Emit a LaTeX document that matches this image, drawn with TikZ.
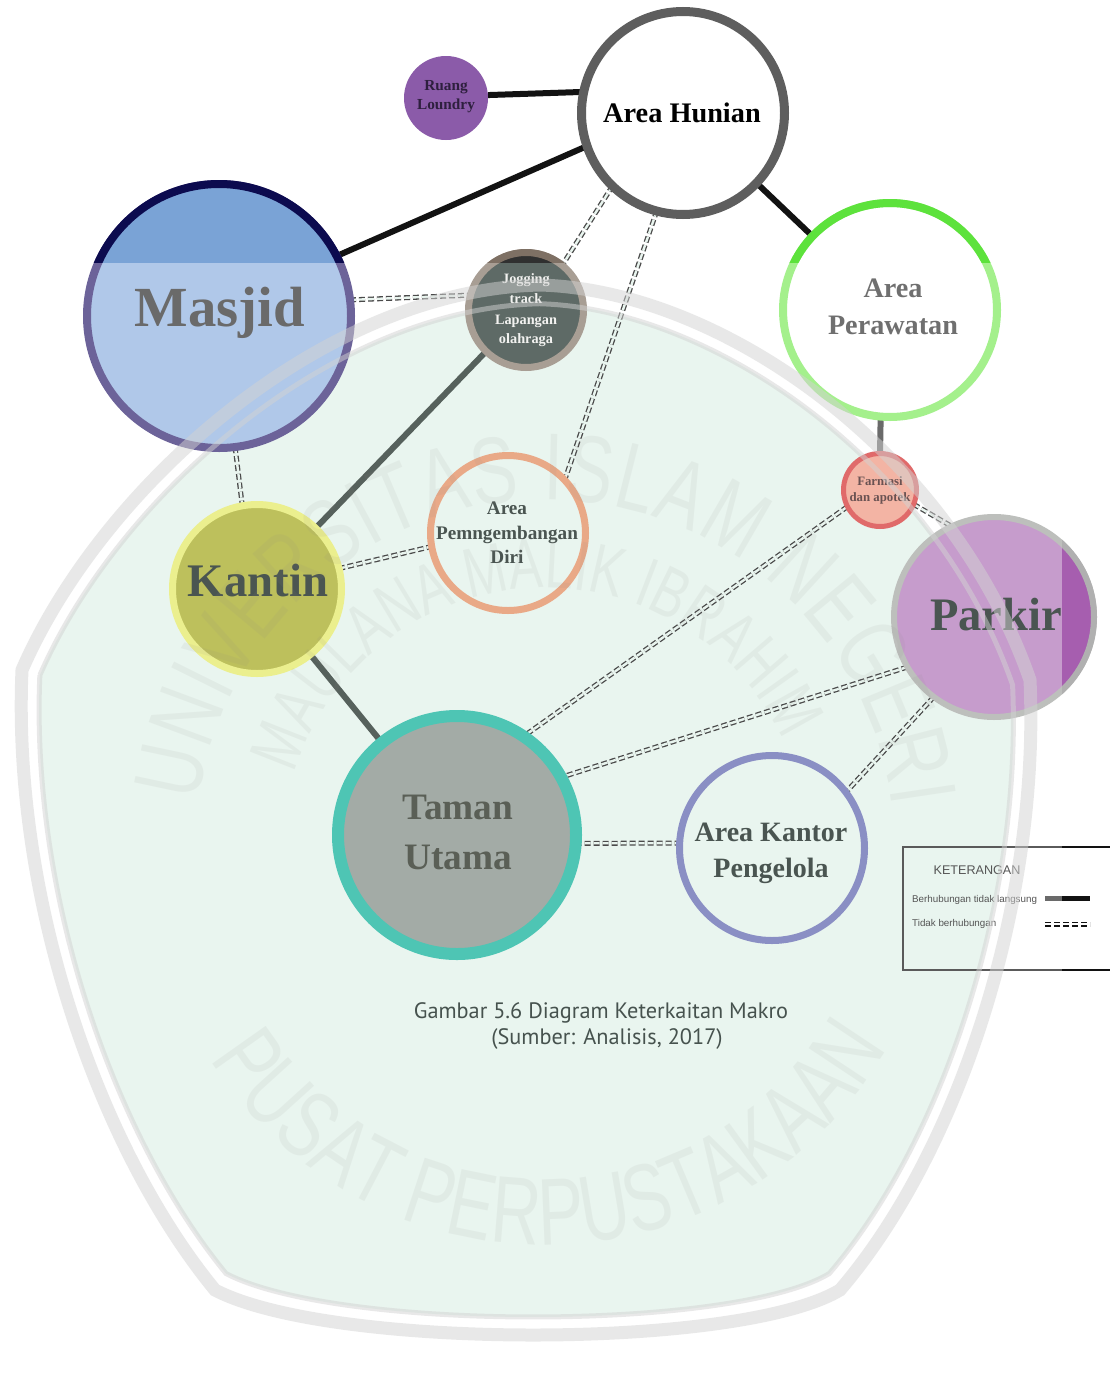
\documentclass[tikz,border=0pt]{standalone}
\usepackage{fontspec}
\setmainfont{Liberation Serif}
\newfontfamily\legendfont{Liberation Sans}
\newfontfamily\capfont{PT Sans}
\newfontfamily\crestfont[FakeStretch=0.72]{Liberation Sans}
\usetikzlibrary{decorations.text}
\pgfdeclarelayer{back}
\pgfdeclarelayer{links}
\pgfdeclarelayer{front}
\pgfsetlayers{back,links,main,front}

\newcommand{\setfs}[1]{\fontsize{#1pt}{#1pt}\selectfont}

% bubble colours
\definecolor{hunianring}{HTML}{5E5E5E}
\definecolor{loundryfill}{HTML}{8B5BA9}
\definecolor{loundrytext}{HTML}{2E1F3E}
\definecolor{masjidfill}{HTML}{B0C8E9}
\definecolor{masjidfilltop}{HTML}{7AA3D6}
\definecolor{masjidring}{HTML}{6C6399}
\definecolor{masjidringtop}{HTML}{0C0B4F}
\definecolor{masjidtext}{HTML}{6A6A6A}
\definecolor{jogfill}{HTML}{5E6A66}
\definecolor{jogfilltop}{HTML}{303030}
\definecolor{jogring}{HTML}{A89E94}
\definecolor{jogringtop}{HTML}{7E7064}
\definecolor{jogtext}{HTML}{F2F2F0}
\definecolor{rawatring}{HTML}{A4F08C}
\definecolor{rawatringtop}{HTML}{5DE23C}
\definecolor{rawattext}{HTML}{6F6F6F}
\definecolor{farmring}{HTML}{E06A6A}
\definecolor{farmfill}{HTML}{F3B4A4}
\definecolor{farmtext}{HTML}{6A5252}
\definecolor{parkirfill}{HTML}{C69CCC}
\definecolor{parkirfillR}{HTML}{A65EAF}
\definecolor{parkirring}{HTML}{BDBFBC}
\definecolor{parkirringR}{HTML}{B0B0B0}
\definecolor{kantinfill}{HTML}{BDC05C}
\definecolor{kantinring}{HTML}{EBEF8E}
\definecolor{pemring}{HTML}{E9A987}
\definecolor{tamanring}{HTML}{4EC5B4}
\definecolor{tamanfill}{HTML}{A3ABA6}
\definecolor{tamantext}{HTML}{5A5F56}
\definecolor{kantorring}{HTML}{8A8FC4}
\definecolor{darktext}{HTML}{4A5551}
% connector colours
\definecolor{linkblack}{HTML}{121212}
\definecolor{linkgrey}{HTML}{6A6A6A}
\definecolor{linkgreen}{HTML}{56615C}
\definecolor{dashgrey}{HTML}{4A4A4A}
% crest, legend, caption
\definecolor{mint}{HTML}{E9F5EF}
\definecolor{crestband}{HTML}{D2D2D2}
\definecolor{crestword}{HTML}{8E8888}
\definecolor{legendline}{HTML}{5A5A5A}
\definecolor{legendtext}{HTML}{555555}
\definecolor{captext}{HTML}{46524E}

\tikzset{
  bubble/.style={circle, inner sep=0pt, outer sep=0pt},
  lbl/.style={inner sep=0pt, anchor=base},
  solidlink/.style={line width=6pt, draw=linkblack},
  greylink/.style={line width=6pt, draw=linkgrey},
  greenlink/.style={line width=6pt, draw=linkgreen},
  nolink/.style={draw=dashgrey, line width=1.3pt, double=mint, double distance=2.4pt, dash pattern=on 6pt off 3pt},
  crestword/.style={decorate, decoration={text along path, text align=fit to path, text color=crestword}},
  crestoutline/.style={insert path={
    (22,670) .. controls (100,490) and (320,290) .. (540,285)
    .. controls (720,290) and (950,450) .. (1030,680)
    .. controls (1040,900) and (960,1150) .. (840,1290)
    .. controls (740,1350) and (330,1350) .. (215,1290)
    .. controls (100,1150) and (12,900) .. cycle}},
}

\begin{document}
\begin{tikzpicture}[x=1pt, y=-1pt]
\useasboundingbox (0,0) rectangle (1110,1373);

% ---------- crest backdrop ----------
\begin{pgfonlayer}{back}
  \fill[white] (0,0) rectangle (1110,1373);
  \fill[mint, scale around={0.965:(532,820)}, crestoutline];
\end{pgfonlayer}

% ---------- bubbles ----------
\node[bubble, draw=hunianring, line width=9pt, fill=white, minimum size=203pt] (hunian) at (683,113) {};
\node[bubble, fill=loundryfill, minimum size=84pt] (loundry) at (446,98) {};
\node[bubble, draw=masjidring, line width=8pt, fill=masjidfill, minimum size=264pt] (masjid) at (219,316) {};
\node[bubble, draw=jogring, line width=7pt, fill=jogfill, minimum size=115pt] (jog) at (526,310) {};
\node[bubble, draw=rawatring, line width=8pt, fill=white, minimum size=214pt] (perawatan) at (890,310) {};
\node[bubble, draw=farmring, line width=5pt, fill=farmfill, minimum size=73pt] (farmasi) at (880,490) {};
\node[bubble, draw=parkirring, line width=6pt, fill=parkirfill, minimum size=200pt] (parkir) at (994,617) {};
\node[bubble, draw=kantinring, line width=7pt, fill=kantinfill, minimum size=169pt] (kantin) at (257,589) {};
\node[bubble, draw=pemring, line width=7pt, minimum size=155pt] (pem) at (508,533) {};
\node[bubble, draw=tamanring, line width=12pt, fill=tamanfill, minimum size=238pt] (taman) at (457,835) {};
\node[bubble, draw=kantorring, line width=7pt, minimum size=185pt] (kantor) at (772,848) {};

% stronger tones along the top strip and the right edge
\begin{scope}
  \clip (0,0) rectangle (1110,262);
  \draw[line width=8pt, draw=masjidringtop, fill=masjidfilltop] (masjid.center) circle[radius=132];
  \draw[line width=7pt, draw=jogringtop, fill=jogfilltop] (jog.center) circle[radius=57.5];
  \draw[line width=8pt, draw=rawatringtop] (perawatan.center) circle[radius=107];
\end{scope}
\begin{scope}
  \clip (1062,0) rectangle (1110,1373);
  \draw[line width=6pt, draw=parkirringR, fill=parkirfillR] (parkir.center) circle[radius=100];
\end{scope}

% ---------- labels ----------
\node[lbl, font=\bfseries\setfs{28.3}, text=black] (hunian-t) at (682,122) {Area Hunian};
\node[lbl, font=\bfseries\setfs{15.3}, text=loundrytext] (loundry-t1) at (446,90) {Ruang};
\node[lbl, font=\bfseries\setfs{15.3}, text=loundrytext] (loundry-t2) at (446,109) {Loundry};
\node[lbl, font=\bfseries\setfs{56.7}, text=masjidtext] (masjid-t) at (220,326) {Masjid};
\node[lbl, font=\bfseries\setfs{14.3}, text=jogtext] (jog-t1) at (526,283) {Jogging};
\node[lbl, font=\bfseries\setfs{14.3}, text=jogtext] (jog-t2) at (526,303) {track};
\node[lbl, font=\bfseries\setfs{14.3}, text=jogtext] (jog-t3) at (526,324) {Lapangan};
\node[lbl, font=\bfseries\setfs{14.3}, text=jogtext] (jog-t4) at (526,343) {olahraga};
\node[lbl, font=\bfseries\setfs{28.2}, text=rawattext] (rawat-t1) at (893,297) {Area};
\node[lbl, font=\bfseries\setfs{28.2}, text=rawattext] (rawat-t2) at (893,334) {Perawatan};
\node[lbl, font=\bfseries\setfs{12.8}, text=farmtext] (farm-t1) at (880,485) {Farmasi};
\node[lbl, font=\bfseries\setfs{12.8}, text=farmtext] (farm-t2) at (880,501) {dan apotek};
\node[lbl, font=\bfseries\setfs{46.6}, text=darktext] (parkir-t) at (996,630) {Parkir};
\node[lbl, font=\bfseries\setfs{46.7}, text=darktext] (kantin-t) at (258,596) {Kantin};
\node[lbl, font=\bfseries\setfs{19.2}, text=darktext] (pem-t1) at (507,514) {Area};
\node[lbl, font=\bfseries\setfs{19.2}, text=darktext] (pem-t2) at (507,539) {Pemngembangan};
\node[lbl, font=\bfseries\setfs{19.2}, text=darktext] (pem-t3) at (507,563) {Diri};
\node[lbl, font=\bfseries\setfs{37.3}, text=tamantext] (taman-t1) at (458,819) {Taman};
\node[lbl, font=\bfseries\setfs{37.3}, text=tamantext] (taman-t2) at (458,869) {Utama};
\node[lbl, font=\bfseries\setfs{28}, text=darktext] (kantor-t1) at (771,841) {Area Kantor};
\node[lbl, font=\bfseries\setfs{28}, text=darktext] (kantor-t2) at (771,877) {Pengelola};

% ---------- connectors ----------
\begin{pgfonlayer}{links}
  % related spaces
  \draw[solidlink] (loundry.4) -- (hunian.168);
  \draw[solidlink] (hunian.199) -- (masjid.27);
  \draw[solidlink] (hunian) -- (perawatan);
  \draw[greylink] (perawatan.265) -- (farmasi.north);
  \draw[greenlink] (jog) -- (kantin);
  \draw[greenlink] (kantin) -- (taman);
  % unrelated spaces
  \draw[nolink] (masjid.7) -- (jog.165);
  \draw[nolink] (masjid.277) -- (kantin.100);
  \draw[nolink] (hunian.226) -- (jog.51);
  \draw[nolink] (hunian.255) -- (pem.43);
  \draw[nolink] (kantin.14) -- (pem.190);
  \draw[nolink] (farmasi.207) -- (taman.56);
  \draw[nolink] (farmasi.337) -- (parkir.115);
  \draw[nolink] (parkir.210) -- (taman.29);
  \draw[nolink] (parkir.233) -- (kantor.37);
  \draw[nolink] (taman.356) -- (kantor.177);
\end{pgfonlayer}

% ---------- legend ----------
\coordinate (lg-tl) at (903,847);
\coordinate (lg-bl) at (903,970);
\coordinate (lg-tm) at (1062,847);
\coordinate (lg-bm) at (1062,970);
\coordinate (lg-tr) at (1112,847);
\coordinate (lg-br) at (1112,970);
\draw[legendline, line width=1.5pt] (lg-tm) -- (lg-tl) -- (lg-bl) -- (lg-bm);
\draw[linkblack, line width=1.5pt] (lg-tm) -- (lg-tr);
\draw[linkblack, line width=1.5pt] (lg-bm) -- (lg-br);
\node[font=\legendfont\setfs{12.6}, text=legendtext, inner sep=0pt] (lg-title) at (977,870) {KETERANGAN};
\node[font=\legendfont\setfs{9.8}, text=legendtext, inner sep=0pt, anchor=west] (lg-t1) at (912,900) {Berhubungan tidak langsung};
\node[font=\legendfont\setfs{9.8}, text=legendtext, inner sep=0pt, anchor=west] (lg-t2) at (912,924) {Tidak berhubungan};
\coordinate (lg-s1a) at (1045,898);
\coordinate (lg-s1m) at (1062,898);
\coordinate (lg-s1b) at (1090,898);
\coordinate (lg-s2a) at (1045,924);
\coordinate (lg-s2b) at (1090,924);
\draw[line width=5pt, draw=linkgrey] (lg-s1a) -- (lg-s1m);
\draw[line width=5pt, draw=linkblack] (lg-s1m) -- (lg-s1b);
\draw[nolink, draw=linkblack, double=white] (lg-s2a) -- (lg-s2b);

% ---------- caption ----------
\node[lbl, font=\capfont\setfs{22.3}, text=captext] (cap1) at (601,1018) {Gambar 5.6 Diagram Keterkaitan Makro};
\node[lbl, font=\capfont\setfs{22.3}, text=captext] (cap2) at (607,1044) {(Sumber: Analisis, 2017)};

% ---------- crest overlay ----------
\begin{pgfonlayer}{front}
  \begin{scope}[opacity=0.5]
    \draw[crestband, line width=13pt, crestoutline];
    \draw[crestband, line width=5pt, scale around={0.965:(532,820)}, crestoutline];
  \end{scope}
  \begin{scope}[opacity=0.09]
    \path[crestword, decoration={text={|\crestfont\setfs{95}|UNIVERSITAS ISLAM NEGERI}}]
      ([shift={(545,850)}]-172:350) arc[start angle=-172, end angle=-7, radius=350];
    \path[crestword, decoration={text={|\crestfont\setfs{70}|MAULANA MALIK IBRAHIM}}]
      ([shift={(545,850)}]-163:262) arc[start angle=-163, end angle=-25, radius=262];
    \path[crestword, decoration={text={|\crestfont\setfs{95}|PUSAT PERPUSTAKAAN}}]
      ([shift={(545,850)}]-212:395) arc[start angle=-212, end angle=-330, radius=395];
  \end{scope}
\end{pgfonlayer}
\end{tikzpicture}
\end{document}
